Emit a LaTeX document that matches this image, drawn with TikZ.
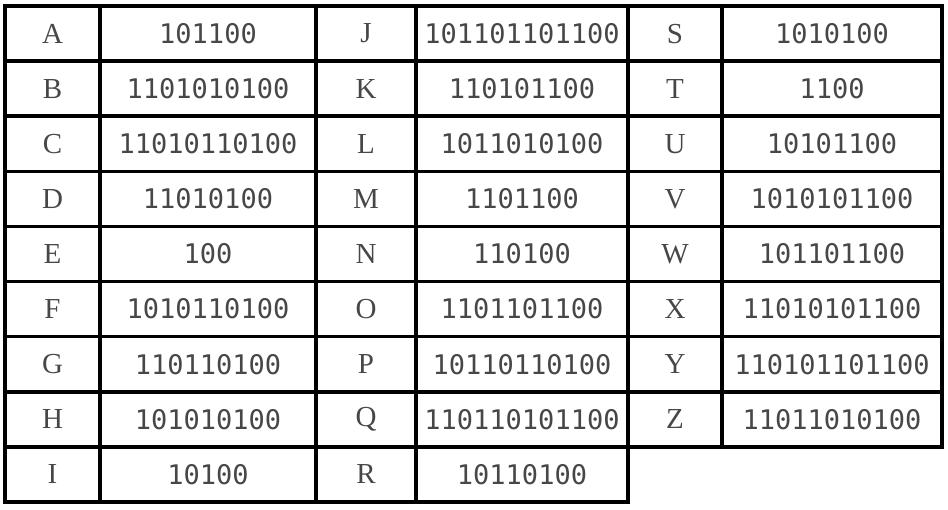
\documentclass[tikz,border=0pt]{standalone}
\usepackage{fontspec}
\setmainfont{Liberation Serif}
\setmonofont{DejaVu Sans Mono}
\begin{document}
\begin{tikzpicture}[x=1pt, y=-1pt, line width=3.6pt,
    cell/.style={draw, rectangle, inner sep=0pt, minimum height=55.1pt, text=black!72},
    letter cell/.style={cell, font=\fontsize{29}{29}\selectfont},
    code cell/.style={cell, font=\ttfamily\fontsize{27}{27}\selectfont}]

    \useasboundingbox (0,0) rectangle (948,509);

    % Letters A to I
    \foreach \l/\c [count=\i from 0] in {A/101100, B/1101010100, C/11010110100,
        D/11010100, E/100, F/1010110100, G/110110100, H/101010100, I/10100} {
        \node[letter cell, minimum width=95pt] (let-\l) at (52.5, 6+55.11*\i+27.55) {\l};
        \node[code cell, minimum width=216pt] (code-\l) at (208, 6+55.11*\i+27.55) {\c};
    }

    % Letters J to R
    \foreach \l/\c [count=\i from 0] in {J/101101101100, K/110101100, L/1011010100,
        M/1101100, N/110100, O/1101101100, P/10110110100, Q/110110101100, R/10110100} {
        \node[letter cell, minimum width=100pt] (let-\l) at (366, 6+55.11*\i+27.55) {\l};
        \node[code cell, minimum width=212pt] (code-\l) at (522, 6+55.11*\i+27.55) {\c};
    }

    % Letters S to Z
    \foreach \l/\c [count=\i from 0] in {S/1010100, T/1100, U/10101100, V/1010101100,
        W/101101100, X/11010101100, Y/110101101100, Z/11011010100} {
        \node[letter cell, minimum width=94pt] (let-\l) at (675, 6+55.11*\i+27.55) {\l};
        \node[code cell, minimum width=220pt] (code-\l) at (832, 6+55.11*\i+27.55) {\c};
    }

\end{tikzpicture}
\end{document}
